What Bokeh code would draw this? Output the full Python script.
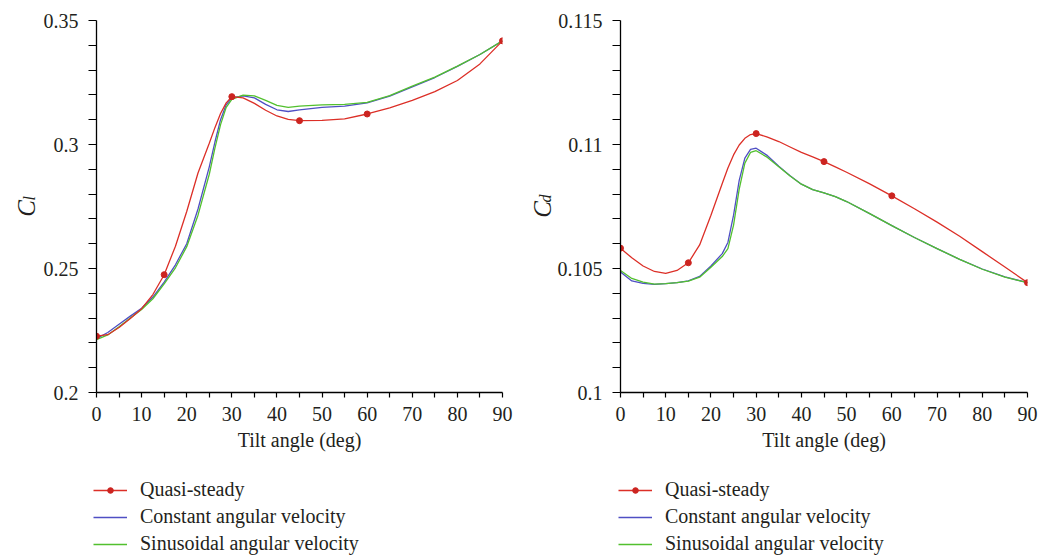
import math
from bokeh.plotting import figure
from bokeh.models import Range1d, FixedTicker, Legend, LegendItem, Label
from bokeh.layouts import row, column
from bokeh.embed import file_html
from bokeh.resources import INLINE

FONT = "Liberation Serif"
RED = "#dc2f27"
RED_MK = "#cc2420"
BLUE = "#4f4fc4"
GREEN = "#52c02e"
TXT = "#231f20"

# ---------------- data ----------------
series_names = ["Quasi-steady", "Constant angular velocity", "Sinusoidal angular velocity"]

# Left panel: lift coefficient C_l
angles_l = [0, 2.5, 5, 7.5, 10, 12.5, 15, 17.5, 20, 22.5, 25, 26.25, 27.5, 28.75, 30,
            32.5, 35, 37.5, 40, 42.5, 45, 50, 55, 60, 65, 70, 75, 80, 85, 90]
cl_quasi = [0.2227, 0.2233, 0.2262, 0.2298, 0.2338, 0.2395, 0.2475, 0.2590, 0.2730,
            0.2885, 0.3005, 0.3068, 0.3125, 0.3168, 0.3193, 0.3188, 0.3166, 0.3138,
            0.3115, 0.3101, 0.3096, 0.3097, 0.3103, 0.3123, 0.3148, 0.3178, 0.3213,
            0.3258, 0.3325, 0.3418]
cl_const = [0.2217, 0.2242, 0.2275, 0.2308, 0.2340, 0.2385, 0.2445, 0.2515, 0.2600,
            0.2740, 0.2910, 0.3010, 0.3100, 0.3160, 0.3188, 0.3196, 0.3188, 0.3162,
            0.3140, 0.3133, 0.3140, 0.3150, 0.3155, 0.3168, 0.3195, 0.3232, 0.3270,
            0.3315, 0.3363, 0.3418]
cl_sinus = [0.2213, 0.2232, 0.2265, 0.2300, 0.2335, 0.2378, 0.2438, 0.2503, 0.2588,
            0.2715, 0.2880, 0.2985, 0.3080, 0.3150, 0.3182, 0.3199, 0.3196, 0.3178,
            0.3158, 0.3150, 0.3155, 0.3160, 0.3162, 0.3170, 0.3197, 0.3235, 0.3272,
            0.3316, 0.3363, 0.3418]

# Right panel: drag coefficient C_d
angles_r = [0, 2.5, 5, 7.5, 10, 12.5, 15, 17.5, 20, 22.5, 23.75, 25, 26.25, 27.5, 28.75,
            30, 32.5, 35, 37.5, 40, 42.5, 45, 47.5, 50, 55, 60, 65, 70, 75, 80, 85, 90]
cd_quasi = [0.10582, 0.10543, 0.10510, 0.10488, 0.10480, 0.10492, 0.10523, 0.10595,
            0.10715, 0.10843, 0.10905, 0.10958, 0.10998, 0.11025, 0.11040, 0.11044,
            0.11030, 0.11012, 0.10990, 0.10968, 0.10950, 0.10931, 0.10910, 0.10888,
            0.10842, 0.10793, 0.10741, 0.10687, 0.10630, 0.10568, 0.10506, 0.10443]
cd_const = [0.10486, 0.10450, 0.10440, 0.10436, 0.10439, 0.10443, 0.10450, 0.10468,
            0.10510, 0.10560, 0.10605, 0.10715, 0.10855, 0.10945, 0.10980, 0.10985,
            0.10955, 0.10912, 0.10874, 0.10840, 0.10818, 0.10805, 0.10790, 0.10770,
            0.10722, 0.10673, 0.10625, 0.10580, 0.10537, 0.10498, 0.10466, 0.10443]
cd_sinus = [0.10492, 0.10460, 0.10445, 0.10437, 0.10439, 0.10443, 0.10449, 0.10465,
            0.10505, 0.10548, 0.10580, 0.10675, 0.10820, 0.10925, 0.10968, 0.10975,
            0.10948, 0.10910, 0.10873, 0.10840, 0.10818, 0.10805, 0.10790, 0.10770,
            0.10722, 0.10673, 0.10625, 0.10580, 0.10537, 0.10497, 0.10465, 0.10443]

# Quasi-steady computed points (markers)
qs_angles = [0, 15, 30, 45, 60, 90]
qs_cl = [0.2227, 0.2475, 0.3193, 0.3096, 0.3123, 0.3418]
qs_cd = [0.10582, 0.10523, 0.11044, 0.10931, 0.10793, 0.10443]

x_major = [0, 10, 20, 30, 40, 50, 60, 70, 80, 90]
x_minor = [5, 15, 25, 35, 45, 55, 65, 75, 85]

cl_major = [0.2, 0.25, 0.3, 0.35]
cl_minor = [0.21, 0.22, 0.23, 0.24, 0.26, 0.27, 0.28, 0.29, 0.31, 0.32, 0.33, 0.34]
cl_labels = ["0.2", "0.25", "0.3", "0.35"]

cd_major = [0.1, 0.105, 0.11, 0.115]
cd_minor = [0.101, 0.102, 0.103, 0.104, 0.106, 0.107, 0.108, 0.109,
            0.111, 0.112, 0.113, 0.114]
cd_labels = ["0.1", "0.105", "0.11", "0.115"]

x_title = "Tilt angle (deg)"
TOP_H = 477
LEG_H = 81
FRAME_BOTTOM = 392


def blank_fig(width, height, xr=(0, 1)):
    q = figure(width=width, height=height, x_range=Range1d(*xr), y_range=Range1d(0, 1),
               output_backend="svg", toolbar_location=None,
               x_axis_location=None, y_axis_location=None,
               min_border=0, min_border_left=0, min_border_right=0,
               min_border_top=0, min_border_bottom=0)
    q.outline_line_color = None
    q.xgrid.visible = False
    q.ygrid.visible = False
    return q


def make_panel(width, bl, br, angles, quasi, const, sinus, qs_vals,
               ymaj, ymin_ticks, ylabels):
    p = figure(width=width, height=TOP_H, x_range=Range1d(0, 90),
               y_range=Range1d(ymaj[0], ymaj[-1]),
               output_backend="svg", toolbar_location=None,
               min_border_left=bl, min_border_right=br,
               min_border_top=20, min_border_bottom=TOP_H - FRAME_BOTTOM)
    p.outline_line_color = None
    p.xgrid.visible = False
    p.ygrid.visible = False
    p.background_fill_color = "white"

    p.line(angles, const, line_color=BLUE, line_width=1.3)
    p.line(angles, sinus, line_color=GREEN, line_width=1.3)
    p.line(angles, quasi, line_color=RED, line_width=1.3)
    p.scatter(qs_angles, qs_vals, size=6, fill_color=RED_MK, line_color=RED_MK)

    xa = p.xaxis[0]
    xa.ticker = FixedTicker(ticks=x_major, minor_ticks=x_minor)
    xa.axis_label = x_title
    ya = p.yaxis[0]
    ya.ticker = FixedTicker(ticks=ymaj, minor_ticks=ymin_ticks)
    ya.major_label_overrides = {v: s for v, s in zip(ymaj, ylabels)}

    for ax in (xa, ya):
        ax.axis_line_color = "black"
        ax.axis_line_width = 1.3
        ax.major_tick_line_color = "black"
        ax.minor_tick_line_color = "black"
        ax.major_tick_line_width = 1.2
        ax.minor_tick_line_width = 1.2
        ax.major_tick_in = 0
        ax.minor_tick_in = 0
        ax.major_label_text_font = FONT
        ax.major_label_text_font_size = "20px"
        ax.major_label_text_color = TXT
        ax.axis_label_text_font = FONT
        ax.axis_label_text_font_size = "20px"
        ax.axis_label_text_font_style = "normal"
        ax.axis_label_text_color = TXT
    xa.major_tick_out = 5
    xa.minor_tick_out = 5
    xa.major_label_standoff = 9
    xa.axis_label_standoff = 5
    ya.major_tick_out = 8
    ya.minor_tick_out = 8
    ya.major_label_standoff = 10
    return p


def make_ylabel(width, sub, c_pos, sub_pos):
    # frame of this strip is aligned with the neighbouring plot frame (top 20, bottom 392)
    q = blank_fig(width, TOP_H)
    q.add_layout(Label(x=c_pos[0], y=FRAME_BOTTOM - c_pos[1], x_units="screen",
                       y_units="screen", text="C", angle=math.pi / 2, text_font=FONT,
                       text_font_style="italic", text_font_size="25px",
                       text_color=TXT, text_align="center",
                       text_baseline="alphabetic"))
    q.add_layout(Label(x=sub_pos[0], y=FRAME_BOTTOM - sub_pos[1], x_units="screen",
                       y_units="screen", text=sub, angle=math.pi / 2, text_font=FONT,
                       text_font_style="italic", text_font_size="16px",
                       text_color=TXT, text_align="left",
                       text_baseline="alphabetic"))
    return q


def make_legend(width, x0, angles, quasi, const, sinus, qs_vals):
    # the series are drawn out of view here; only their legend keys show
    q = blank_fig(width, LEG_H, xr=(-20, -19))
    rr = q.line(angles, quasi, line_color=RED, line_width=1.3)
    rm = q.scatter(qs_angles, qs_vals, size=6, fill_color=RED_MK, line_color=RED_MK)
    rb = q.line(angles, const, line_color=BLUE, line_width=1.3)
    rg = q.line(angles, sinus, line_color=GREEN, line_width=1.3)
    legend = Legend(items=[
        LegendItem(label=series_names[0], renderers=[rr, rm]),
        LegendItem(label=series_names[1], renderers=[rb]),
        LegendItem(label=series_names[2], renderers=[rg]),
    ], location=(x0, 3), orientation="vertical")
    legend.label_text_font = FONT
    legend.label_text_font_size = "20px"
    legend.label_text_color = TXT
    legend.glyph_width = 34
    legend.glyph_height = 14
    legend.label_height = 14
    legend.label_standoff = 13
    legend.spacing = 4
    legend.padding = 0
    legend.margin = 0
    legend.border_line_color = None
    legend.background_fill_alpha = 0
    q.add_layout(legend)
    return q


lab1 = make_ylabel(40, "l", (26, 208), (29, 200))
p1 = make_panel(474, 54, 12, angles_l, cl_quasi, cl_const, cl_sinus, qs_cl,
                cl_major, cl_minor, cl_labels)
lab2 = make_ylabel(40, "d", (27.5, 209), (31, 202))
p2 = make_panel(487, 64, 14, angles_r, cd_quasi, cd_const, cd_sinus, qs_cd,
                cd_major, cd_minor, cd_labels)
leg1 = make_legend(520, 93, angles_l, cl_quasi, cl_const, cl_sinus, qs_cl)
leg2 = make_legend(521, 98, angles_r, cd_quasi, cd_const, cd_sinus, qs_cd)

layout = column(row(lab1, p1, lab2, p2), row(leg1, leg2))
open("out.html", "w").write(file_html(layout, INLINE))
